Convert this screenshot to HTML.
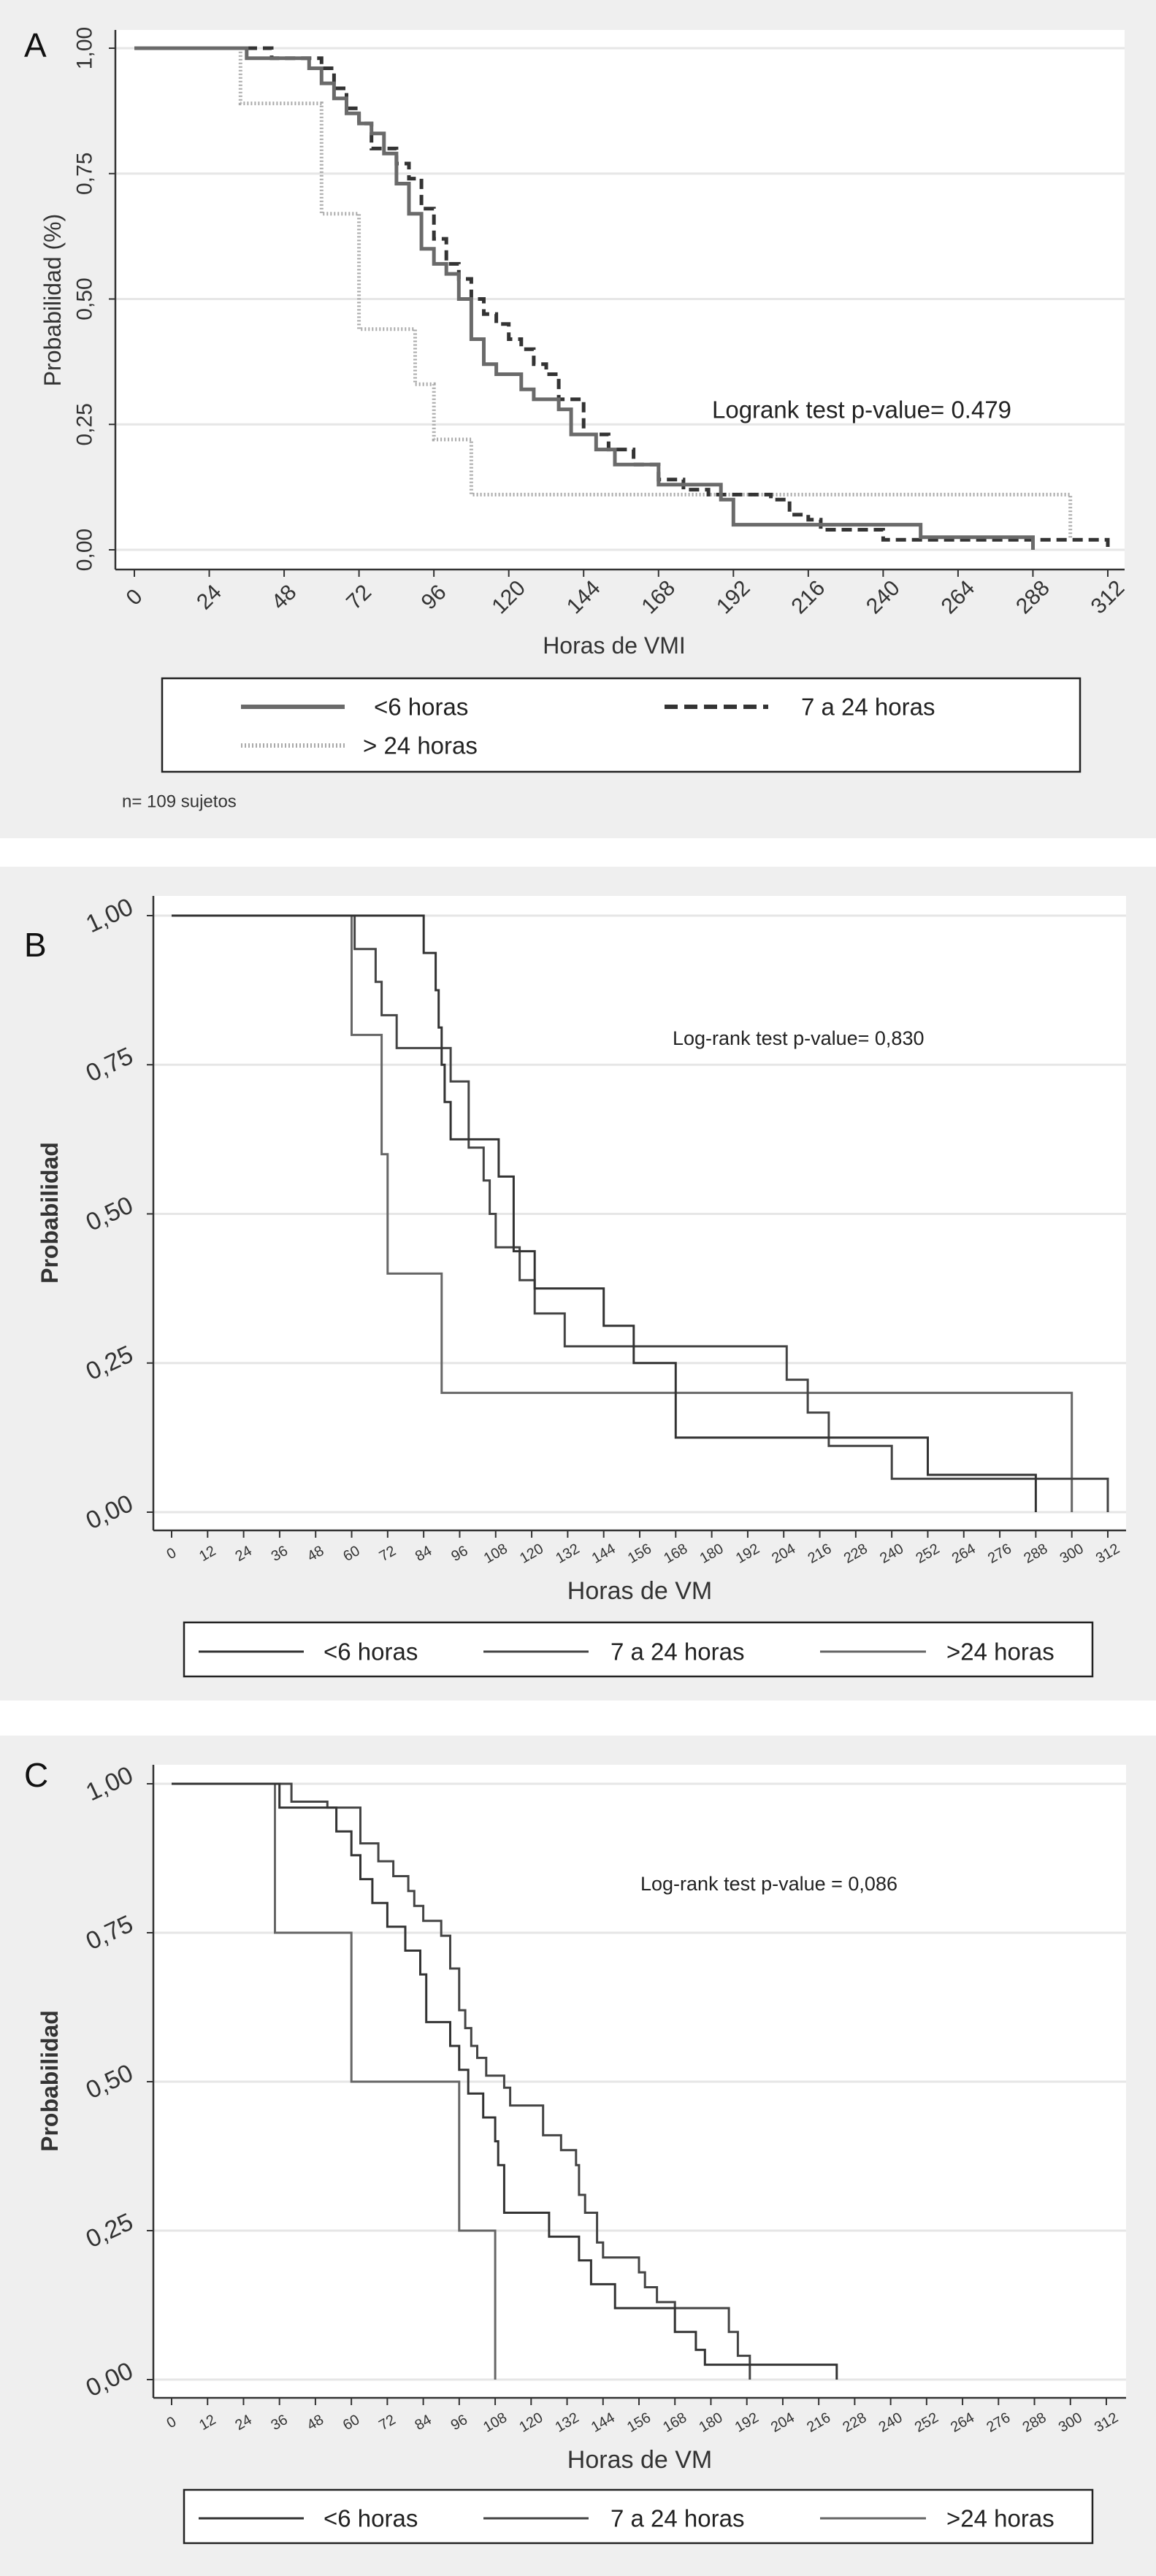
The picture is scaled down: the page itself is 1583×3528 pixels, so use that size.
<!DOCTYPE html>
<html><head><meta charset="utf-8"><style>
html,body{margin:0;padding:0;background:#fff;}
svg{display:block;}
text{font-family:"Liberation Sans",sans-serif;}
</style></head><body>
<svg id="root" width="1583" height="3528" viewBox="0 0 1583 3528" xmlns="http://www.w3.org/2000/svg"></svg>
<script>
// ---------- DATA ----------
const yTicks = [0, 0.25, 0.5, 0.75, 1];
const yTickLabelsA = ["0,00","0,25","0,50","0,75","1,00"];
const xTicksA = [0,24,48,72,96,120,144,168,192,216,240,264,288,312];
const xTicksBC = [0,12,24,36,48,60,72,84,96,108,120,132,144,156,168,180,192,204,216,228,240,252,264,276,288,300,312];

// Panel A
const aLt6T = [0,36,56,60,64,68,72,76,80,84,88,92,96,100,104,108,112,116,124,128,136,140,148,154,168,188,192,252,288];
const aLt6S = [1,0.98,0.96,0.93,0.9,0.87,0.85,0.83,0.79,0.73,0.67,0.6,0.57,0.55,0.5,0.42,0.37,0.35,0.32,0.3,0.28,0.23,0.2,0.17,0.13,0.1,0.05,0.025,0.0];
const a7to24T = [0,44,60,64,68,72,76,84,88,92,96,100,104,108,112,116,120,124,128,132,136,144,152,160,168,176,184,204,210,216,220,240,312];
const a7to24S = [1,0.98,0.96,0.92,0.88,0.85,0.8,0.77,0.74,0.68,0.62,0.57,0.54,0.5,0.47,0.45,0.42,0.4,0.37,0.35,0.3,0.23,0.2,0.17,0.14,0.12,0.11,0.1,0.07,0.06,0.04,0.02,0.0];
const aGt24T = [0,34,60,72,90,96,108,300];
const aGt24S = [1,0.89,0.67,0.44,0.33,0.22,0.11,0.02];

// Panel B
const bLt6T = [0,84,88,89,90,91,93,109,114,121,144,154,168,252,288];
const bLt6S = [1,0.9375,0.875,0.8125,0.75,0.6875,0.625,0.5625,0.4375,0.375,0.3125,0.25,0.125,0.0625,0];
const b7to24T = [0,61,68,70,75,93,99,104,106,108,116,121,131,205,212,219,240,312];
const b7to24S = [1,0.944,0.889,0.833,0.778,0.722,0.611,0.556,0.5,0.444,0.389,0.333,0.278,0.222,0.167,0.111,0.056,0];
const bGt24T = [0,60,70,72,90,300];
const bGt24S = [1,0.8,0.6,0.4,0.2,0];

// Panel C
const cLt6T = [0,36,55,60,63,67,72,78,83,85,93,96,99,104,108,109,111,126,136,140,148,168,175,178,222];
const cLt6S = [1,0.96,0.92,0.88,0.84,0.8,0.76,0.72,0.68,0.6,0.56,0.52,0.48,0.44,0.4,0.36,0.28,0.24,0.2,0.16,0.12,0.08,0.05,0.025,0];
const c7to24T = [0,40,52,63,69,74,79,81,84,90,93,96,98,100,102,105,111,113,124,130,135,136,138,142,144,156,158,162,168,186,189,193];
const c7to24S = [1,0.97,0.96,0.9,0.87,0.845,0.82,0.795,0.77,0.745,0.69,0.62,0.59,0.56,0.54,0.51,0.49,0.46,0.41,0.385,0.36,0.31,0.28,0.23,0.205,0.18,0.155,0.13,0.12,0.08,0.04,0];
const cGt24T = [0,34.5,60,96,108];
const cGt24S = [1,0.75,0.5,0.25,0];

// ---------- DRAWING ----------
const NS = "http://www.w3.org/2000/svg";
const root = document.getElementById('root');
function mk(tag, attrs, parent, txt){
  const e = document.createElementNS(NS, tag);
  for (const k in attrs) e.setAttribute(k, attrs[k]);
  if (txt !== undefined) e.textContent = txt;
  (parent||root).appendChild(e);
  return e;
}
function stepPath(T, S, sx, sy){
  let d = "M" + sx(T[0]).toFixed(1) + " " + sy(S[0]).toFixed(1);
  for (let i=1;i<T.length;i++){
    d += " H" + sx(T[i]).toFixed(1) + " V" + sy(S[i]).toFixed(1);
  }
  return d;
}

function panel(cfg){
  const g = mk('g', {});
  
  
  const bg = mk('rect', {x:0, y:cfg.bgTop, width:1583, height:cfg.bgH, fill:'#efefef'}, g);
  
  
  const pa = mk('rect', {x:cfg.pl, y:cfg.pt, width:cfg.pr-cfg.pl, height:cfg.pb-cfg.pt, fill:'#fff'}, g);
  
  
  const sx = h => cfg.x0 + (h/312)*(cfg.x312-cfg.x0);
  const sy = p => cfg.y0 + p*(cfg.y1-cfg.y0);
  // grid
  yTicks.forEach(v=>{
    const gl = mk('line', {x1:cfg.pl, x2:cfg.pr, y1:sy(v), y2:sy(v), stroke:'#e6e6e6', 'stroke-width':3}, g);
    
    
  });
  // axes
  const ya = mk('line', {x1:cfg.pl, x2:cfg.pl, y1:cfg.pt, y2:cfg.pb, stroke:'#333', 'stroke-width':2.5}, g);
  
  
  const xa = mk('line', {x1:cfg.pl, x2:cfg.pr, y1:cfg.pb, y2:cfg.pb, stroke:'#333', 'stroke-width':2.5}, g);
  
  
  // y ticks
  yTicks.forEach((v,i)=>{
    const y = sy(v);
    const t = mk('line', {x1:cfg.pl-9, x2:cfg.pl, y1:y, y2:y, stroke:'#333', 'stroke-width':2}, g);
    
    
    const lb = mk('text', {x:cfg.ylx, y:y, 'font-size':cfg.yfs, fill:'#333', 'text-anchor':'middle', 'dominant-baseline':'central',
      transform:'rotate('+cfg.yrot+' '+cfg.ylx+' '+y+')', 'font-family':cfg.font}, g, yTickLabelsA[i]);
    
    
  });
  // x ticks
  cfg.xt.forEach(v=>{
    const x = sx(v);
    const t = mk('line', {x1:x, x2:x, y1:cfg.pb, y2:cfg.pb+10, stroke:'#333', 'stroke-width':2}, g);
    
    
    const ly = cfg.xly;
    const lb = mk('text', {x:x, y:ly, 'font-size':cfg.xfs, fill:'#333', 'text-anchor':'middle', 'dominant-baseline':'central',
      transform:'rotate('+cfg.xrot+' '+x+' '+ly+')', 'font-family':cfg.font}, g, String(v));
    
    
  });
  // titles
  const xt = mk('text', {x:cfg.xtx, y:cfg.xty, 'font-size':cfg.tfs, fill:'#333', 'text-anchor':'middle', 'font-family':cfg.font}, g, cfg.xtitle);
  
  
  const ytx = cfg.ytx, yty = cfg.yty;
  const yt = mk('text', {x:ytx, y:yty, 'font-size':cfg.ytfs, fill:'#333', 'text-anchor':'middle', 'dominant-baseline':'central',
    transform:'rotate(-90 '+ytx+' '+yty+')', 'font-family':cfg.ytfont, 'font-weight':cfg.ytw}, g, cfg.ytitle);
  
  
  const pl = mk('text', {x:33, y:cfg.letterY, 'font-size':46, fill:'#111', 'font-family':'"Liberation Sans Narrow","Liberation Sans",sans-serif'}, g, cfg.letter);
  
  
  const an = mk('text', {x:cfg.anX, y:cfg.anY, 'font-size':cfg.anfs, fill:'#222', 'dominant-baseline':'central', 'font-family':cfg.font}, g, cfg.anText);
  
  
  // series
  cfg.series.forEach(s=>{
    const p = mk('path', {d:stepPath(s.T, s.S, sx, sy), fill:'none', stroke:s.color, 'stroke-width':s.w, 'stroke-dasharray':s.dash||'none'}, g);
    
    
  });
  // legend
  const lg = mk('rect', {x:cfg.lg[0], y:cfg.lg[1], width:cfg.lg[2]-cfg.lg[0], height:cfg.lg[3]-cfg.lg[1], fill:'#fff', stroke:'#222', 'stroke-width':2.5}, g);
  
  
  cfg.legend.forEach(e=>{
    const l = mk('line', {x1:e.x1, x2:e.x2, y1:e.y, y2:e.y, stroke:e.color, 'stroke-width':e.w, 'stroke-dasharray':e.dash||'none'}, g);
    
    
    const t = mk('text', {x:e.tx, y:e.y, 'font-size':cfg.lfs, fill:'#222', 'dominant-baseline':'central', 'font-family':cfg.font}, g, e.label);
    
    
  });
  return g;
}

const narrow = '"Liberation Sans Narrow","Liberation Sans",sans-serif';
const normal = '"Liberation Sans",sans-serif';

panel({name:'panel-a', letter:'A', letterY:78, bgTop:0, bgH:1148,
  pl:158, pr:1540, pt:41, pb:780, x0:184, x312:1517, y0:753, y1:66,
  xt:xTicksA, xly:818, xfs:30, xrot:-45, ylx:116, yfs:30, yrot:-90, font:narrow,
  xtitle:'Horas de VMI', xtx:841, xty:895, tfs:32,
  ytitle:'Probabilidad (%)', ytx:72, yty:411, ytfs:32, ytfont:narrow, ytw:'normal',
  anText:'Logrank test p-value= 0.479', anX:975, anY:561, anfs:33,
  series:[
    {name:'series-gt24-horas', T:aGt24T, S:aGt24S, color:'#aaa', w:5, dash:'2 3'},
    {name:'series-7-24-horas', T:a7to24T, S:a7to24S, color:'#333', w:5, dash:'14 8'},
    {name:'series-lt6-horas', T:aLt6T, S:aLt6S, color:'#6a6a6a', w:5}
  ],
  lg:[222,929,1479,1057], lfs:33,
  legend:[
    {x1:330,x2:472,y:968,color:'#6a6a6a',w:6,tx:512,label:'<6 horas'},
    {x1:910,x2:1052,y:968,color:'#333',w:6,dash:'18 9',tx:1097,label:'7 a 24 horas'},
    {x1:330,x2:472,y:1021,color:'#aaa',w:6,dash:'2 3',tx:497,label:'> 24 horas'}
  ]
});
const nt = mk('text', {x:167, y:1098, 'font-size':24, fill:'#333', 'dominant-baseline':'central', 'font-family':narrow}, root, 'n= 109 sujetos');



panel({name:'panel-b', letter:'B', letterY:1310, bgTop:1187, bgH:1142,
  pl:210, pr:1542, pt:1227, pb:2096, x0:235, x312:1517, y0:2071, y1:1254,
  xt:xTicksBC, xly:2128, xfs:20, xrot:-30, ylx:150, yfs:34, yrot:-25, font:normal,
  xtitle:'Horas de VM', xtx:876, xty:2190, tfs:34,
  ytitle:'Probabilidad', ytx:68, yty:1661, ytfs:32, ytfont:normal, ytw:'bold',
  anText:'Log-rank test p-value= 0,830', anX:921, anY:1422, anfs:27,
  series:[
    {name:'series-gt24-horas', T:bGt24T, S:bGt24S, color:'#666', w:3},
    {name:'series-7-24-horas', T:b7to24T, S:b7to24S, color:'#444', w:3},
    {name:'series-lt6-horas', T:bLt6T, S:bLt6S, color:'#333', w:3}
  ],
  lg:[252,2222,1496,2296], lfs:33,
  legend:[
    {x1:272,x2:416,y:2262,color:'#333',w:3,tx:443,label:'<6 horas'},
    {x1:662,x2:806,y:2262,color:'#444',w:3,tx:836,label:'7 a 24 horas'},
    {x1:1123,x2:1268,y:2262,color:'#666',w:3,tx:1296,label:'>24 horas'}
  ]
});

panel({name:'panel-c', letter:'C', letterY:2447, bgTop:2377, bgH:1151,
  pl:210, pr:1542, pt:2417, pb:3284, x0:235, x312:1515, y0:3259, y1:2443,
  xt:xTicksBC, xly:3318, xfs:20, xrot:-30, ylx:150, yfs:34, yrot:-25, font:normal,
  xtitle:'Horas de VM', xtx:876, xty:3380, tfs:34,
  ytitle:'Probabilidad', ytx:68, yty:2850, ytfs:32, ytfont:normal, ytw:'bold',
  anText:'Log-rank test p-value = 0,086', anX:877, anY:2580, anfs:27,
  series:[
    {name:'series-gt24-horas', T:cGt24T, S:cGt24S, color:'#666', w:3},
    {name:'series-7-24-horas', T:c7to24T, S:c7to24S, color:'#444', w:3},
    {name:'series-lt6-horas', T:cLt6T, S:cLt6S, color:'#333', w:3}
  ],
  lg:[252,3410,1496,3483], lfs:33,
  legend:[
    {x1:272,x2:416,y:3449,color:'#333',w:3,tx:443,label:'<6 horas'},
    {x1:662,x2:806,y:3449,color:'#444',w:3,tx:836,label:'7 a 24 horas'},
    {x1:1123,x2:1268,y:3449,color:'#666',w:3,tx:1296,label:'>24 horas'}
  ]
});
</script>
</body></html>
